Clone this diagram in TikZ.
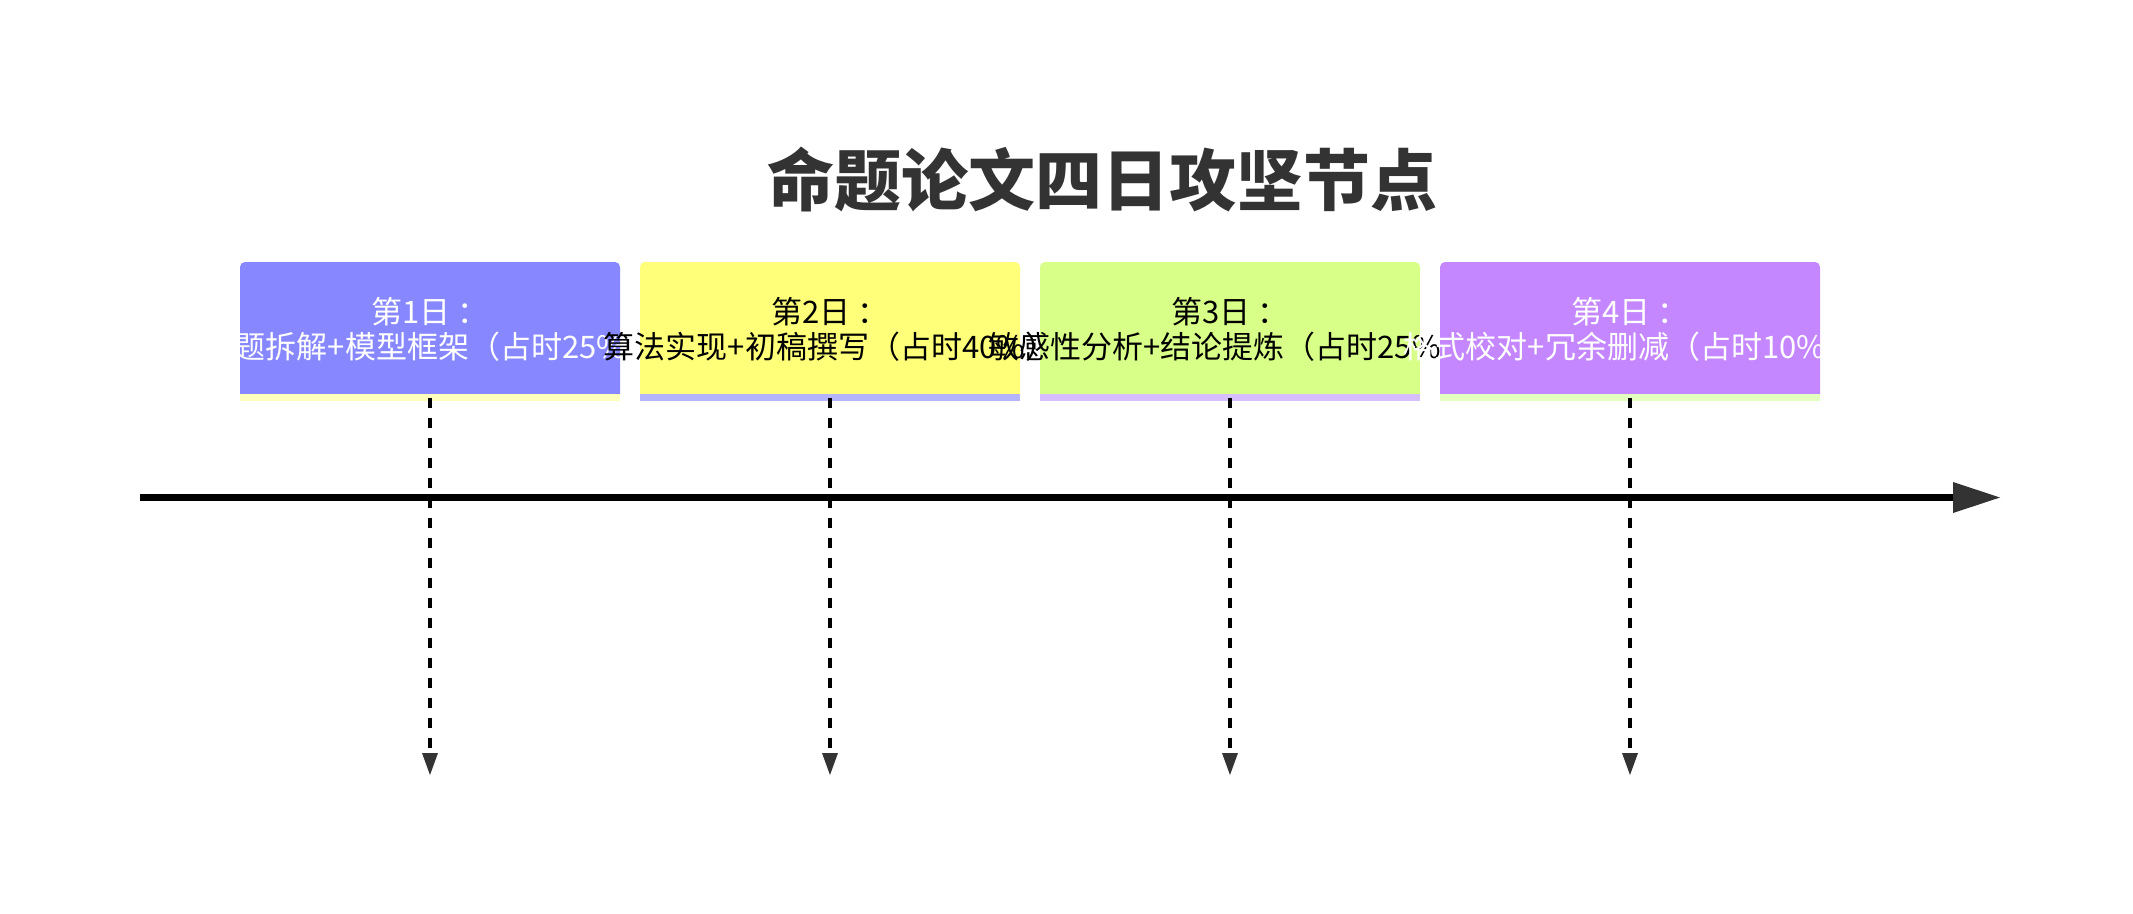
\documentclass[tikz,border=0pt]{standalone}
\usepackage{fontspec}
\newfontfamily\cjk{Noto Sans CJK SC}
\usetikzlibrary{arrows.meta}
\definecolor{bA}{RGB}{135,135,255}
\definecolor{bB}{RGB}{255,255,122}
\definecolor{bC}{RGB}{216,255,135}
\definecolor{bD}{RGB}{196,135,255}
\definecolor{sA}{RGB}{255,255,190}
\definecolor{sB}{RGB}{180,180,255}
\definecolor{sC}{RGB}{214,190,255}
\definecolor{sD}{RGB}{226,255,192}
\definecolor{titlegray}{RGB}{51,51,51}
\definecolor{arrowgray}{RGB}{51,51,51}
\begin{document}
\begin{tikzpicture}[x=1pt,y=-1pt,
  daybox/.style={rounded corners=5pt, minimum width=380pt, minimum height=137pt, inner sep=0pt, draw=none},
  stripebar/.style={minimum width=380pt, minimum height=7pt, inner sep=0pt, draw=none},
  daytext/.style={align=center, font=\cjk\fontsize{31}{35}\selectfont, inner sep=0pt},
  link/.style={line width=3.5pt, dash pattern=on 10pt off 10pt, -{Triangle[length=22pt,width=16pt,line width=0pt,color=arrowgray]}},
  mainline/.style={line width=7.5pt, -{Triangle[length=47pt,width=31pt,line width=0pt,color=arrowgray]}}
]
\useasboundingbox (0,0) rectangle (2133,913);

\node[font=\cjk\bfseries\fontsize{67}{80}\selectfont, text=titlegray] (title) at (1102,179) {命题论文四日攻坚节点};

\node[daybox, fill=bA] (d1) at (430,330.5) {};
\node[stripebar, fill=sA] (s1) at (430,397.5) {};
\node[daytext, text=white] (t1) at (430,329.5) {第1日 ：\\命题拆解+模型框架（占时25\%）};

\node[daybox, fill=bB] (d2) at (830,330.5) {};
\node[stripebar, fill=sB] (s2) at (830,397.5) {};
\node[daytext, text=black] (t2) at (830,329.5) {第2日 ：\\算法实现+初稿撰写（占时40\%）};

\node[daybox, fill=bC] (d3) at (1230,330.5) {};
\node[stripebar, fill=sC] (s3) at (1230,397.5) {};
\node[daytext, text=black] (t3) at (1230,329.5) {第3日 ：\\敏感性分析+结论提炼（占时25\%）};

\node[daybox, fill=bD] (d4) at (1630,330.5) {};
\node[stripebar, fill=sD] (s4) at (1630,397.5) {};
\node[daytext, text=white] (t4) at (1630,329.5) {第4日 ：\\格式校对+冗余删减（占时10\%）};

\coordinate (e1) at (430,775);
\coordinate (e2) at (830,775);
\coordinate (e3) at (1230,775);
\coordinate (e4) at (1630,775);
\draw[link] (s1.center) -- (e1);
\draw[link] (s2.center) -- (e2);
\draw[link] (s3.center) -- (e3);
\draw[link] (s4.center) -- (e4);

\coordinate (tl0) at (140,497.5);
\coordinate (tl1) at (2000,497.5);
\draw[mainline] (tl0) -- (tl1);
\end{tikzpicture}
\end{document}
